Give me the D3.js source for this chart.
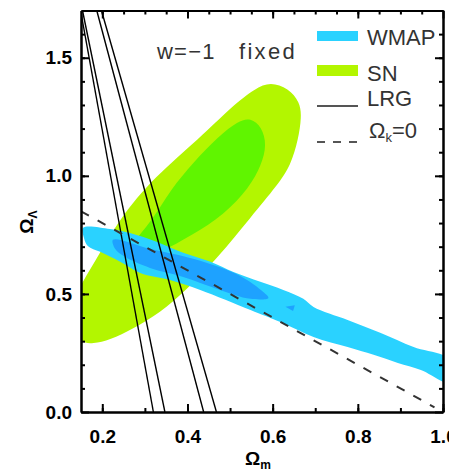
<!DOCTYPE html>
<meta charset="utf-8">
<style>
    body { margin: 0; background: #fff; }
    svg { display: block; font-family: "Liberation Sans", Arial, sans-serif; }
    .tick text { font-size: 19px; font-weight: bold; fill: #000; }
    .legend text { font-size: 22px; fill: #333; }
</style>
<svg width="449" height="471"></svg>

<script src="https://d3js.org/d3.v7.min.js"></script>
<script>
    // values (Omega_m, Omega_Lambda)
    var xTickLabels = [0.2, 0.4, 0.6, 0.8, 1.0];
    var yTickLabels = [0.0, 0.5, 1.0, 1.5];

    var snOuter = [[0.595, 1.398], [0.637, 1.370], [0.664, 1.312], [0.668, 1.250], [0.660, 1.153],
        [0.643, 1.047], [0.612, 0.962], [0.549, 0.826], [0.471, 0.653], [0.396, 0.515],
        [0.336, 0.420], [0.272, 0.352], [0.218, 0.305], [0.178, 0.288], [0.148, 0.293],
        [0.130, 0.347], [0.126, 0.453], [0.153, 0.550], [0.193, 0.668], [0.240, 0.817],
        [0.322, 0.995], [0.428, 1.158], [0.506, 1.297], [0.559, 1.370]];
    var snInner = [[0.548, 1.246], [0.575, 1.206], [0.586, 1.131], [0.574, 1.047], [0.545, 0.949],
        [0.486, 0.835], [0.410, 0.748], [0.336, 0.675], [0.284, 0.640], [0.260, 0.674],
        [0.283, 0.742], [0.318, 0.814], [0.360, 0.941], [0.414, 1.058], [0.473, 1.168],
        [0.519, 1.232]];

    var wmapOuter = [[0.155, 0.780], [0.218, 0.775], [0.265, 0.758], [0.329, 0.720], [0.390, 0.674],
        [0.454, 0.636], [0.508, 0.593], [0.571, 0.551], [0.625, 0.517], [0.672, 0.479],
        [0.696, 0.445], [0.776, 0.390], [0.854, 0.335], [0.931, 0.275], [1.018, 0.220],
        [1.018, 0.123], [0.948, 0.178], [0.894, 0.208], [0.837, 0.242], [0.776, 0.275],
        [0.696, 0.318], [0.618, 0.381], [0.548, 0.432], [0.430, 0.517], [0.359, 0.559],
        [0.289, 0.589], [0.242, 0.636], [0.195, 0.678], [0.166, 0.703], [0.157, 0.737]];
    var wmapInner = [[0.225, 0.729], [0.312, 0.691], [0.430, 0.640], [0.524, 0.576], [0.578, 0.508],
        [0.590, 0.483], [0.548, 0.479], [0.470, 0.521], [0.390, 0.572], [0.312, 0.610],
        [0.253, 0.657], [0.230, 0.691]];
    var wmapSpeck = [[0.630, 0.446], [0.652, 0.452], [0.648, 0.428]];

    var lrgLines = [
        [[0.149, 1.70], [0.320, 0.0]],
        [[0.1535, 1.70], [0.347, 0.0]],
        [[0.187, 1.70], [0.438, 0.0]],
        [[0.198, 1.70], [0.468, 0.0]]
    ];

    var flatLine = [[0.15, 0.85], [0.98, 0.02]];   // Omega_k = 0

    var svg = d3.select("svg"),
        pLeft = 81, pRight = 443, pTop = 10.5, pBottom = 412;

    var x = d3.scaleLinear().domain([0.15, 1.0]).range([pLeft, pRight]);
    var y = d3.scaleLinear().domain([0, 1.7]).range([pBottom, pTop]);

    svg.append("clipPath").attr("id", "plot")
        .append("rect").attr("x", pLeft).attr("y", pTop)
        .attr("width", pRight - pLeft).attr("height", pBottom - pTop);

    var g = svg.append("g").attr("clip-path", "url(#plot)");

    var smooth = d3.line().x(function(d) { return x(d[0]); }).y(function(d) { return y(d[1]); })
        .curve(d3.curveCatmullRomClosed.alpha(0.5));
    var oval = d3.line().x(function(d) { return x(d[0]); }).y(function(d) { return y(d[1]); })
        .curve(d3.curveBasisClosed);
    var straight = d3.line().x(function(d) { return x(d[0]); }).y(function(d) { return y(d[1]); });

    g.append("path").attr("d", oval(snOuter)).attr("fill", "#b3f600");
    g.append("path").attr("d", oval(snInner)).attr("fill", "#60f500");
    g.append("path").attr("d", smooth(wmapOuter)).attr("fill", "#2ad2ff");
    g.append("path").attr("d", smooth(wmapInner)).attr("fill", "#1ea2ff");
    g.append("path").attr("d", straight(wmapSpeck) + "Z").attr("fill", "#1ea2ff");

    g.selectAll(".lrg").data(lrgLines).enter().append("path")
        .attr("class", "lrg")
        .attr("d", straight)
        .attr("fill", "none").attr("stroke", "#000").attr("stroke-width", 1.4);

    g.append("path").attr("d", straight(flatLine))
        .attr("fill", "none").attr("stroke", "#333").attr("stroke-width", 2)
        .attr("stroke-dasharray", "9,10");

    // axes, ticks pointing inwards
    function style(sel) {
        sel.select(".domain").attr("stroke", "#000").attr("stroke-width", 2);
        sel.selectAll(".tick line").attr("stroke", "#000").attr("stroke-width", 2);
    }
    var none = function() { return ""; };

    svg.append("g").attr("transform", "translate(0," + pBottom + ")")
        .call(d3.axisBottom(x).tickValues(d3.range(0.2, 1.01, 0.1)).tickSize(-4).tickSizeOuter(0).tickFormat(none)).call(style);
    svg.append("g").attr("transform", "translate(0," + pBottom + ")")
        .call(d3.axisBottom(x).tickValues(xTickLabels).tickSize(-8).tickSizeOuter(0).tickPadding(18).tickFormat(d3.format(".1f"))).call(style);

    svg.append("g").attr("transform", "translate(0," + pTop + ")")
        .call(d3.axisTop(x).tickValues(d3.range(0.2, 1.0, 0.05)).tickSize(-4).tickSizeOuter(0).tickFormat(none)).call(style);
    svg.append("g").attr("transform", "translate(0," + pTop + ")")
        .call(d3.axisTop(x).tickValues(xTickLabels).tickSize(-8).tickSizeOuter(0).tickFormat(none)).call(style);

    svg.append("g").attr("transform", "translate(" + pLeft + ",0)")
        .call(d3.axisLeft(y).tickValues(d3.range(0.1, 1.7, 0.1)).tickSize(-4).tickSizeOuter(0).tickFormat(none)).call(style);
    svg.append("g").attr("transform", "translate(" + pLeft + ",0)")
        .call(d3.axisLeft(y).tickValues(yTickLabels).tickSize(-8).tickSizeOuter(0).tickPadding(9).tickFormat(d3.format(".1f"))).call(style);

    svg.append("g").attr("transform", "translate(" + pRight + ",0)")
        .call(d3.axisRight(y).tickValues(d3.range(0.1, 1.7, 0.1)).tickSize(-4).tickSizeOuter(0).tickFormat(none)).call(style);
    svg.append("g").attr("transform", "translate(" + pRight + ",0)")
        .call(d3.axisRight(y).tickValues(yTickLabels).tickSize(-8).tickSizeOuter(0).tickFormat(none)).call(style);

    svg.selectAll(".tick text").attr("font-family", null).attr("font-size", null);

    // axis titles
    var xt = svg.append("text").attr("x", 258).attr("y", 465).attr("text-anchor", "middle")
        .attr("font-size", 19).attr("font-weight", "bold").text("Ω");
    xt.append("tspan").attr("font-size", 12).attr("dy", 4).text("m");

    var yt = svg.append("text").attr("transform", "translate(33,222) rotate(-90)").attr("text-anchor", "middle")
        .attr("font-size", 19).attr("font-weight", "bold").text("Ω");
    yt.append("tspan").attr("font-size", 12).attr("dy", 4).text("Λ");

    svg.append("text").attr("x", 157).attr("y", 59).attr("font-size", 22).attr("fill", "#333")
        .attr("letter-spacing", 1.2).text("w=−1");
    svg.append("text").attr("x", 239).attr("y", 59).attr("font-size", 22).attr("fill", "#333")
        .attr("letter-spacing", 2.3).text("fixed");

    // legend
    var lg = svg.append("g").attr("class", "legend");
    lg.append("rect").attr("x", 317).attr("y", 31).attr("width", 41).attr("height", 10).attr("fill", "#2ad2ff");
    lg.append("rect").attr("x", 317).attr("y", 65).attr("width", 41).attr("height", 11).attr("fill", "#b3f600");
    lg.append("line").attr("x1", 317).attr("x2", 358).attr("y1", 106).attr("y2", 106)
        .attr("stroke", "#555").attr("stroke-width", 2);
    lg.append("line").attr("x1", 317).attr("x2", 358).attr("y1", 142).attr("y2", 142)
        .attr("stroke", "#555").attr("stroke-width", 2).attr("stroke-dasharray", "8,8");
    lg.append("text").attr("x", 367).attr("y", 45).text("WMAP");
    lg.append("text").attr("x", 367).attr("y", 81).text("SN");
    lg.append("text").attr("x", 367).attr("y", 106).text("LRG");
    var ok = lg.append("text").attr("x", 369).attr("y", 138).text("Ω");
    ok.append("tspan").attr("font-size", 13).attr("dy", 4).text("k");
    ok.append("tspan").attr("dy", -4).text("=0");
</script>
